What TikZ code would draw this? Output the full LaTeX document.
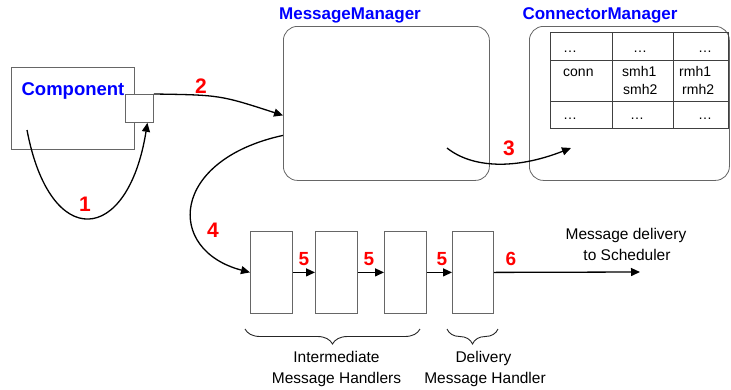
\documentclass[tikz,border=0pt]{standalone}
\usepackage{fontspec}
\setmainfont{Liberation Sans}
\usetikzlibrary{arrows.meta,decorations.pathreplacing}

\tikzset{
  box/.style={draw=black!60, line width=0.8pt, inner sep=0pt, anchor=north west},
  mgr/.style={box, rounded corners=14pt},
  title/.style={anchor=base, text=blue, font=\bfseries\fontsize{17}{20}\selectfont},
  plain/.style={anchor=base, inner sep=0pt, font=\fontsize{15.5}{18}\selectfont},
  cell/.style={anchor=base west, inner sep=0pt, font=\fontsize{14}{16}\selectfont},
  dots/.style={anchor=base, inner sep=0pt, font=\fontsize{14}{16}\selectfont},
  num/.style={anchor=base, inner sep=0pt, text=red, font=\bfseries\fontsize{21}{24}\selectfont},
  numsm/.style={num, font=\bfseries\fontsize{19}{22}\selectfont},
  arr/.style={draw=black, line width=1.3pt, -{Triangle[length=9pt,width=8pt]}},
  gridline/.style={draw=black!75, line width=0.8pt},
  bracestyle/.style={draw=black!85, line width=0.9pt,
    decorate, decoration={brace, amplitude=15pt, mirror}},
}

\begin{document}
\begin{tikzpicture}[x=1pt, y=-1pt]
\useasboundingbox (0,0) rectangle (731,389);

% component with its outgoing port
\node[box, minimum width=123pt, minimum height=82pt] (comp) at (11,67) {};
\node[box, fill=white, minimum width=28pt, minimum height=28pt] (port) at (125,94) {};
\node[anchor=base, text=blue, font=\bfseries\fontsize{18.5}{22}\selectfont] (comptitle) at (73,95) {Component};

% managers
\node[mgr, minimum width=206pt, minimum height=154pt] (mm) at (283,26) {};
\node[title] (mmtitle) at (350,19) {MessageManager};
\node[mgr, minimum width=200pt, minimum height=154pt] (cm) at (529,26) {};
\node[title] (cmtitle) at (600,19) {ConnectorManager};

% connector table
\node[box, draw=black!75, minimum width=178pt, minimum height=96pt] (tbl) at (550,32) {};
\draw[gridline] (612,32) -- (612,128);
\draw[gridline] (673,32) -- (673,128);
\draw[gridline] (550,60) -- (728,60);
\draw[gridline] (550,101) -- (728,101);
\node[dots] (d11) at (570,52) {…};
\node[dots] (d12) at (640,52) {…};
\node[dots] (d13) at (705,52) {…};
\node[cell] (conn) at (563,76) {conn};
\node[cell] (smhA) at (622,76) {smh1};
\node[cell] (smhB) at (623,94) {smh2};
\node[cell] (rmhA) at (679,76) {rmh1};
\node[cell] (rmhB) at (682,94) {rmh2};
\node[dots] (d31) at (570,119) {…};
\node[dots] (d32) at (637,119) {…};
\node[dots] (d33) at (705,119) {…};

% message handler chain
\node[box, minimum width=42pt, minimum height=82pt] (h1) at (250,231) {};
\node[box, minimum width=42pt, minimum height=82pt] (h2) at (315,231) {};
\node[box, minimum width=42pt, minimum height=82pt] (h3) at (384,231) {};
\node[box, minimum width=41pt, minimum height=82pt] (h4) at (452,231) {};
\coordinate (sched) at (640,272);

% connectors
\coordinate (c1) at (27,130);
\draw[arr] (c1) .. controls (50,252) and (128,245) .. ([xshift=8pt]port.south);
\draw[arr] (port.north east) .. controls (220,95) .. ([yshift=-12pt]mm.west);
\coordinate (c3) at (447,148);
\coordinate (c3e) at (571,148);
\draw[arr] (c3) .. controls (472,168) and (515,170) .. (c3e);
\draw[arr] ([yshift=-32pt]mm.west) .. controls (170,160) and (165,250) .. (h1.west);
\draw[arr] (h1.east) -- (h2.west);
\draw[arr] (h2.east) -- (h3.west);
\draw[arr] (h3.east) -- (h4.west);
\draw[arr] (h4.east) -- (sched);

% step numbers
\node[num] (n1) at (85,211) {1};
\node[num] (n2) at (201,93) {2};
\node[num] (n3) at (509,155) {3};
\node[num] (n4) at (213,237) {4};
\node[numsm] (n5a) at (304,265) {5};
\node[numsm] (n5b) at (369,265) {5};
\node[numsm] (n5c) at (442,265) {5};
\node[numsm] (n6) at (511,265) {6};

% captions
\node[plain] (deliv1) at (626,239) {Message delivery};
\node[plain] (deliv2) at (627,260) {to Scheduler};

\coordinate (b1l) at (245,329);
\coordinate (b1r) at (420,329);
\coordinate (b2l) at (447,329);
\coordinate (b2r) at (498,329);
\draw[bracestyle] (b1l) -- (b1r);
\draw[bracestyle] (b2l) -- (b2r);
\node[plain] (im1) at (336.5,362) {Intermediate};
\node[plain] (im2) at (336.5,383) {Message Handlers};
\node[plain] (dm1) at (483.5,362) {Delivery};
\node[plain] (dm2) at (485,383) {Message Handler};
\end{tikzpicture}
\end{document}
